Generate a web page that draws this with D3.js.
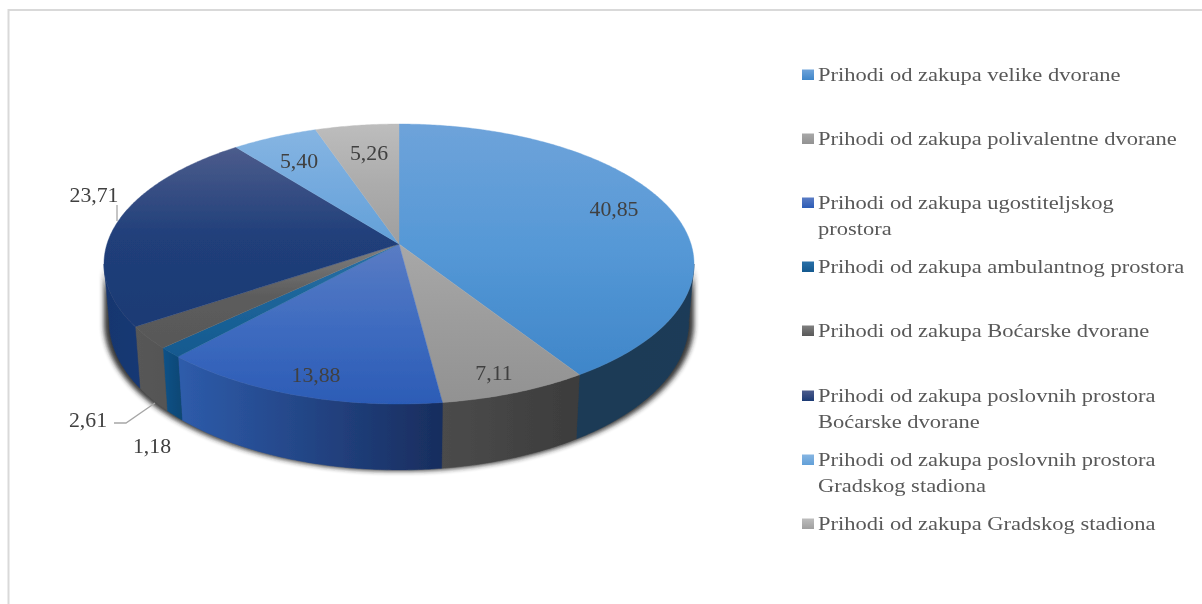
<!DOCTYPE html>
<html><head><meta charset="utf-8">
<script src="https://cdn.jsdelivr.net/npm/d3@7/dist/d3.min.js"></script>
<style>html,body{margin:0;background:#fff}svg{display:block}text{font-family:"Liberation Serif",serif}</style>
</head><body><svg id="c" width="1202" height="604"></svg>
<script>
const categories = [
 "Prihodi od zakupa velike dvorane","Prihodi od zakupa polivalentne dvorane",
 "Prihodi od zakupa ugostiteljskog prostora","Prihodi od zakupa ambulantnog prostora",
 "Prihodi od zakupa Boćarske dvorane","Prihodi od zakupa poslovnih prostora Boćarske dvorane",
 "Prihodi od zakupa poslovnih prostora Gradskog stadiona","Prihodi od zakupa Gradskog stadiona"];
const values = [40.85,7.11,13.88,1.18,2.61,23.71,5.40,5.26];
const valueLabels = ["40,85","7,11","13,88","1,18","2,61","23,71","5,40","5,26"];
const topColorsStart = ["#6ea3da","#a8a8a8","#5a7cc4","#2a70a8","#808080","#4c5c8c","#86b5e2","#bdbdbd"];
const topColorsMid   = ["#5598d6","#9c9c9c","#3f6cc0","#1c6499","#5c5c5c","#203f7a","#74aade","#acacac"];
const topColorsEnd   = ["#3f86c9","#929292","#2c5cb6","#14598f","#585858","#1d3a74","#62a0d8","#9f9f9f"];
const wallColorsStart= ["#1b3a56","#4b4b4b","#2e5cab","#0f5288","#585858","#17366f","#1b3a56","#3c3c3c"];
const wallColorsEnd  = ["#1c3b58","#3c3c3c","#182d5e","#0d4774","#545454","#193874","#1b3a56","#3c3c3c"];
const legendLines = [[categories[0]],[categories[1]],["Prihodi od zakupa ugostiteljskog","prostora"],[categories[3]],[categories[4]],
 ["Prihodi od zakupa poslovnih prostora","Boćarske dvorane"],["Prihodi od zakupa poslovnih prostora","Gradskog stadiona"],[categories[7]]];
const legendY = [75,139,203,267,331,396,460,524];
const labelPos = [[614,209],[494,373],[316,375],[152,446],[88,420],[94,195],[299,161],[369,153]];

const svg = d3.select("#c");
const defs = svg.append("defs");
const soft = defs.append("filter").attr("id","soft").attr("x","-5%").attr("y","-5%").attr("width","110%").attr("height","110%");
soft.append("feGaussianBlur").attr("stdDeviation",0.45);
const tsoft = defs.append("filter").attr("id","tsoft").attr("x","-5%").attr("y","-20%").attr("width","110%").attr("height","140%");
tsoft.append("feGaussianBlur").attr("stdDeviation",0.4);
const shb = defs.append("filter").attr("id","shb").attr("x","-10%").attr("y","-10%").attr("width","120%").attr("height","120%");
shb.append("feGaussianBlur").attr("stdDeviation",2.5);

// frame
svg.append("path").attr("d","M8.5,604V10H1202").attr("fill","none").attr("stroke","#d9d9d9").attr("stroke-width",2);

// perspective projection of a tilted disc
const cx=399, k=1/7, a=292, b=137.14;
const project=(ang,r,y0,sx,sy)=>{const u=Math.sin(ang)*r,v=-Math.cos(ang)*r,w=1-k*v;
  return [cx+sx*a*u/w, y0+sy*b*v/w];};
const topPt=(ang)=>project(ang,1,244,1,1);
const botPt=(ang)=>project(ang,1,300.8,0.982,1.057);
const shadowPt=(ang)=>project(ang,1,302,1.0,1.057);
const line=d3.line();
const samples=(a0,a1)=>{const n=Math.max(2,Math.ceil(Math.abs(a1-a0)/0.01));return d3.range(n+1).map(i=>a0+(a1-a0)*i/n);};

const arcs=d3.pie().sort(null).value(d=>d)(values);
const tan0=Math.acos(-k), tan1=2*Math.PI-tan0;

// shadow
const silh=[...samples(tan0,tan1).map(shadowPt),...samples(tan1,tan0).map(topPt)];
svg.append("path").attr("d",line(silh)+"Z").attr("fill","#222").attr("opacity",.9)
   .attr("filter","url(#shb)");

const main=svg.append("g").attr("filter","url(#soft)");

// walls
arcs.forEach((d,i)=>{
  const a0=Math.max(d.startAngle,tan0), a1=Math.min(d.endAngle,tan1);
  if(a1<=a0) return;
  const pts=[...samples(a0,a1).map(topPt),...samples(a1,a0).map(botPt)];
  const id="w"+i, xs=pts.map(p=>p[0]);
  const g=defs.append("linearGradient").attr("id",id).attr("gradientUnits","userSpaceOnUse")
    .attr("x1",d3.min(xs)).attr("x2",d3.max(xs)).attr("y1",0).attr("y2",0);
  g.append("stop").attr("offset",0).attr("stop-color",wallColorsStart[i]);
  g.append("stop").attr("offset",1).attr("stop-color",wallColorsEnd[i]);
  main.append("path").attr("d",line(pts)+"Z").attr("fill",`url(#${id})`).attr("stroke",`url(#${id})`).attr("stroke-width",.5);
});

// top faces
arcs.forEach((d,i)=>{
  const pts=[[cx,244],...samples(d.startAngle,d.endAngle).map(topPt)];
  const ys=pts.map(p=>p[1]), id="t"+i;
  const g=defs.append("linearGradient").attr("id",id).attr("gradientUnits","userSpaceOnUse")
    .attr("x1",0).attr("x2",0).attr("y1",d3.min(ys)).attr("y2",d3.max(ys));
  g.append("stop").attr("offset",0).attr("stop-color",topColorsStart[i]);
  g.append("stop").attr("offset",.5).attr("stop-color",topColorsMid[i]);
  g.append("stop").attr("offset",1).attr("stop-color",topColorsEnd[i]);
  main.append("path").attr("d",line(pts)+"Z").attr("fill",`url(#${id})`).attr("stroke",`url(#${id})`).attr("stroke-width",.4);
});

// leader lines
const lead=svg.append("g").attr("fill","none").attr("stroke","#a6a6a6").attr("stroke-width",1.3);
lead.append("path").attr("d","M117,205V221");
lead.append("path").attr("d","M114,423H126L155,403");

// value labels
const tg=svg.append("g").attr("filter","url(#tsoft)");
valueLabels.forEach((t,i)=>{
  tg.append("text").attr("transform",`translate(${labelPos[i][0]},${labelPos[i][1]}) scale(1.09,1)`).attr("dy","0.33em")
    .attr("text-anchor","middle").attr("font-size",20).attr("fill","#404040").text(t);
});

// legend
legendLines.forEach((ls,i)=>{
  const g=defs.append("linearGradient").attr("id","l"+i).attr("x1",0).attr("x2",0).attr("y1",0).attr("y2",1);
  g.append("stop").attr("offset",0).attr("stop-color",topColorsStart[i]);
  g.append("stop").attr("offset",1).attr("stop-color",topColorsEnd[i]);
  tg.append("rect").attr("x",802).attr("y",legendY[i]-5.5).attr("width",12).attr("height",10.5).attr("fill",`url(#l${i})`);
  ls.forEach((t,j)=>tg.append("text").attr("transform",`translate(818,${legendY[i]+j*26}) scale(1.155,1)`).attr("dy","0.33em")
    .attr("font-size",19.5).attr("fill","#595959").text(t));
});
</script></body></html>
